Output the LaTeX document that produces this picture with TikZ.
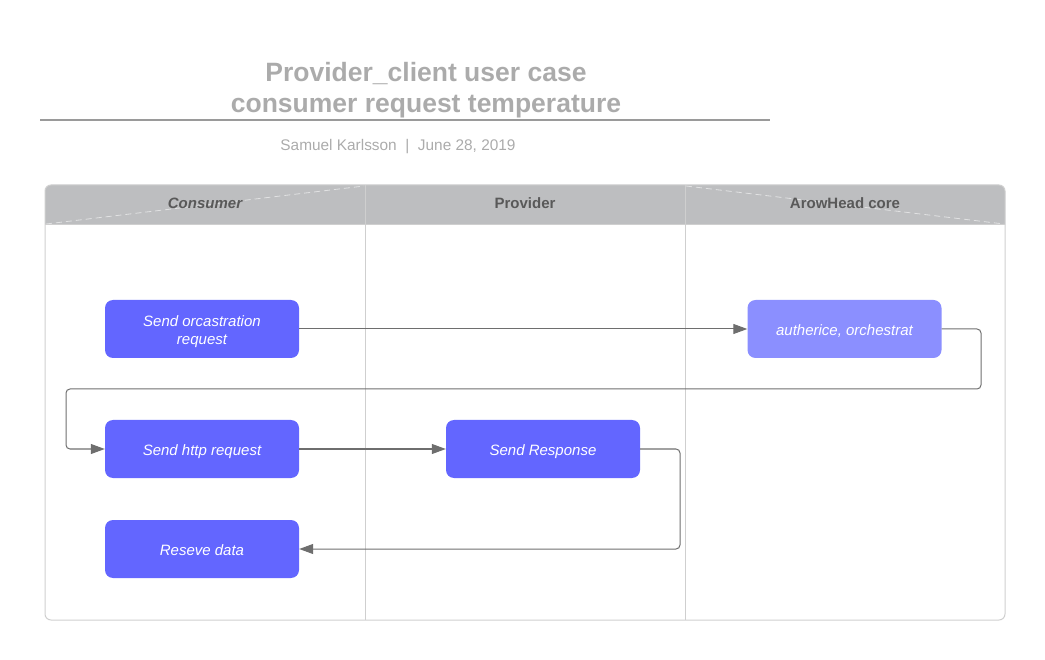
\documentclass[tikz,border=0pt]{standalone}
\usepackage{fontspec}
\setmainfont{Liberation Sans}
\usetikzlibrary{arrows.meta}
\definecolor{nodeblue}{HTML}{6366FF}
\definecolor{nodelight}{HTML}{8B8FFF}
\definecolor{hdr}{HTML}{BDBEC0}
\definecolor{laneline}{HTML}{CFCFCF}
\definecolor{titlegray}{HTML}{ABABAB}
\definecolor{hdrtext}{HTML}{595959}
\definecolor{connc}{HTML}{6E6E6E}
\newcommand\tasktext[1]{\raisebox{-2.5pt}[\height][\depth]{\begin{tabular}{@{}c@{}}#1\end{tabular}}}
\tikzset{
  task/.style={rectangle, rounded corners=8pt, fill=nodeblue, minimum width=194pt, minimum height=58pt,
    text=white, font=\fontsize{15}{18}\selectfont\itshape, inner sep=0pt},
  tasklight/.style={task, fill=nodelight},
  connector/.style={draw=connc, line width=1pt, -{Triangle[length=14pt,width=10pt]}, rounded corners=4pt},
  hdrlabel/.style={text=hdrtext, font=\fontsize{15}{18}\selectfont\bfseries},
  titletext/.style={text=titlegray, font=\fontsize{26.5}{32}\selectfont\bfseries, align=center},
}
\begin{document}
\begin{tikzpicture}[x=1pt,y=-1pt]
\useasboundingbox (0,0) rectangle (1045,660);
% title
\node[titletext] (title1) at (426,73.5) {Provider\_client user case};
\node[titletext] (title2) at (426,106.5) {consumer request temperature};
\draw[draw=titlegray!90!black, line width=2pt] (40,120) -- (770,120);
\node[text=titlegray, font=\fontsize{15.4}{18}\selectfont] (sub) at (398,146.5) {Samuel Karlsson~~|~~June 28, 2019};
% pool
\fill[hdr] (45,225) [rounded corners=6pt] -- (45,185) -- (1005,185) [sharp corners] -- (1005,225) -- cycle;
\draw[white, opacity=0.55, dashed, dash pattern=on 6pt off 4pt, line width=0.8pt] (46,224) -- (364,186);
\draw[white, opacity=0.55, dashed, dash pattern=on 6pt off 4pt, line width=0.8pt] (686,186) -- (1004,224);
\draw[laneline, line width=1pt] (45,225) -- (1005,225);
\draw[laneline, line width=1pt] (365,185) -- (365,620);
\draw[laneline, line width=1pt] (685,185) -- (685,620);
\draw[laneline, line width=1pt, rounded corners=6pt] (45,185) rectangle (1005,620);
\node[hdrlabel, font=\fontsize{15}{18}\selectfont\bfseries\itshape] (h1) at (205,203.5) {Consumer};
\node[hdrlabel] (h2) at (525,203.5) {Provider};
\node[hdrlabel] (h3) at (845,203.5) {ArowHead core};
% tasks
\node[task] (orch) at (202,329) {\tasktext{Send orcastration\\request}};
\node[tasklight] (auth) at (844.5,329) {\tasktext{autherice, orchestrat}};
\node[task] (http) at (202,449) {\tasktext{Send http request}};
\node[task] (resp) at (543,449) {\tasktext{Send Response}};
\node[task] (recv) at (202,549) {\tasktext{Reseve data}};
% connectors
\draw[connector] (orch.east) -- (auth.west);
\draw[connector] (auth.east) -| (981,389) -| (66,449) -- (http.west);
\draw[connector] (http.east) -- (resp.west);
\draw[connector] (resp.east) -| (680,549) -- (recv.east);
\end{tikzpicture}
\end{document}
